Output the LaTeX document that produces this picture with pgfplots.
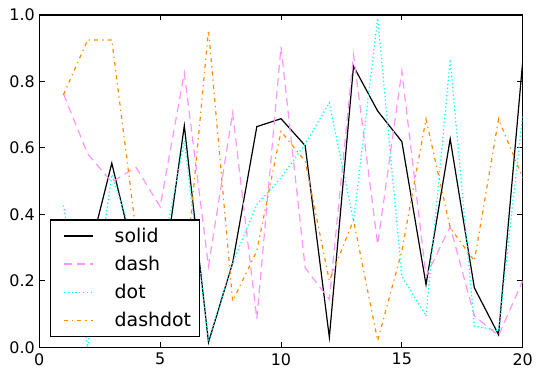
\documentclass[border=0pt]{standalone}
\usepackage{fontspec}
\setmainfont{DejaVu Sans}
\usepackage{pgfplots}
\pgfplotsset{compat=1.18}
\definecolor{cviolet}{RGB}{255,150,255}
\definecolor{ccyan}{RGB}{0,255,255}
\definecolor{corange}{RGB}{255,140,0}
\begin{document}
\begin{tikzpicture}
\begin{axis}[
  scale only axis,
  width=483.4bp, height=332.3bp,
  xmin=0, xmax=20, ymin=0, ymax=1,
  xtick={0,5,10,15,20},
  ytick={0,0.2,0.4,0.6,0.8,1.0},
  yticklabel style={/pgf/number format/fixed, /pgf/number format/fixed zerofill, /pgf/number format/precision=1, xshift=-1bp},
  /pgf/number format/assume math mode=true,
  tick label style={font=\fontsize{16}{19}\selectfont},
  xticklabel style={yshift=-2.5bp},
  tick align=inside,
  xtick pos=both, ytick pos=both,
  major tick length=5.5bp,
  every tick/.style={black, line width=0.9bp},
  axis line style={line width=1.2bp},
  legend cell align=left,
  legend style={at={(0,0)}, anchor=south west, xshift=10.4bp, yshift=10.6bp,
    draw=black, line width=1.1bp, font=\fontsize{19}{23}\selectfont,
    nodes={inner sep=0bp},
    inner xsep=8.5bp, inner ysep=8bp, row sep=12.2bp,
    /tikz/every odd column/.append style={column sep=21bp}},
  legend image code/.code={\path[draw=none,fill=none] (0bp,-0.05bp) rectangle (34.3bp,0.05bp); \draw[#1] (5.3bp,0bp) -- (34.3bp,0bp);},
]
\addplot[black, line width=1.2bp] coordinates {
(1,0.30) (2,0.264) (3,0.554) (4,0.25) (5,0.147) (6,0.667) (7,0.015) (8,0.254) (9,0.664) (10,0.688)
(11,0.607) (12,0.03) (13,0.846) (14,0.711) (15,0.619) (16,0.189) (17,0.627) (18,0.179) (19,0.038) (20,0.86)};
\addlegendentry{solid}
\addplot[cviolet, line width=1.2bp, dash pattern=on 8bp off 5bp] coordinates {
(1,0.763) (2,0.582) (3,0.497) (4,0.542) (5,0.423) (6,0.826) (7,0.244) (8,0.706) (9,0.085) (10,0.905)
(11,0.239) (12,0.144) (13,0.88) (14,0.31) (15,0.831) (16,0.214) (17,0.363) (18,0.094) (19,0.035) (20,0.20)};
\addlegendentry{dash}
\addplot[ccyan, line width=1.2bp, dash pattern=on 1.2bp off 2.6bp] coordinates {
(1,0.427) (2,0.0) (3,0.52) (4,0.30) (5,0.25) (6,0.622) (7,0.02) (8,0.254) (9,0.43) (10,0.51)
(11,0.612) (12,0.736) (13,0.38) (14,0.99) (15,0.214) (16,0.094) (17,0.866) (18,0.064) (19,0.05) (20,0.70)};
\addlegendentry{dot}
\addplot[corange, line width=1.2bp, dash pattern=on 4bp off 4bp on 1.3bp off 4bp] coordinates {
(1,0.76) (2,0.925) (3,0.925) (4,0.35) (5,0.25) (6,0.18) (7,0.955) (8,0.139) (9,0.29) (10,0.65)
(11,0.56) (12,0.20) (13,0.383) (14,0.02) (15,0.29) (16,0.687) (17,0.36) (18,0.26) (19,0.687) (20,0.51)};
\addlegendentry{dashdot}
\end{axis}
\path ([shift={(-39.3bp,-29.7bp)}]current axis.south west) rectangle ([shift={(19.3bp,15bp)}]current axis.north east);
\end{tikzpicture}
\end{document}
